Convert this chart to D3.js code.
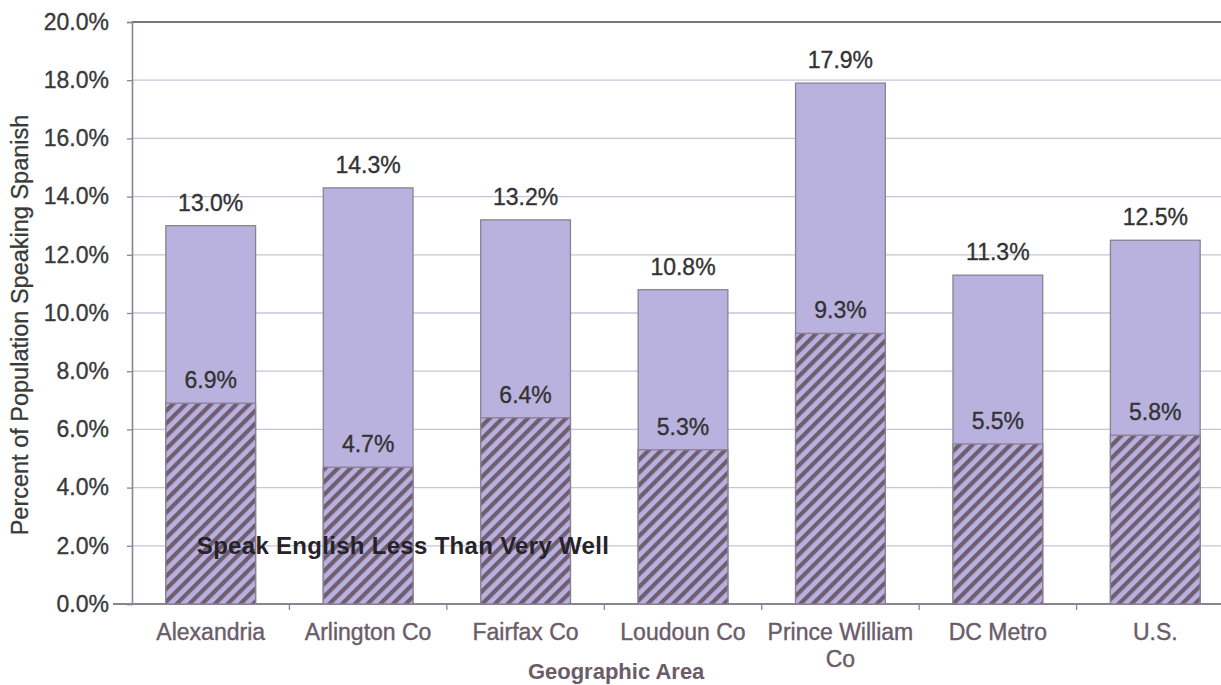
<!DOCTYPE html>
<html>
<head>
<meta charset="utf-8">
<script src="https://cdn.jsdelivr.net/npm/d3@7"></script>
<style>
body { margin: 0; background: #fff; }
text { font-family: "Liberation Sans", Arial, sans-serif; }
</style>
</head>
<body>
<script>
// data
var areas = ["Alexandria", "Arlington Co", "Fairfax Co", "Loudoun Co", "Prince William Co", "DC Metro", "U.S."];
var totalSpanish = [13.0, 14.3, 13.2, 10.8, 17.9, 11.3, 12.5];
var lessThanVeryWell = [6.9, 4.7, 6.4, 5.3, 9.3, 5.5, 5.8];
var yTicks = [0, 2, 4, 6, 8, 10, 12, 14, 16, 18, 20];

var margin = {top: 22, right: 0, bottom: 81, left: 132};
var width = 1102;   // runs past the window edge like the scan
var height = 604 - margin.top;

var svg = d3.select("body").append("svg")
    .attr("width", 1221)
    .attr("height", 685);

// stripes for the lower segment
var pat = svg.append("defs").append("pattern")
    .attr("id", "hatch")
    .attr("patternUnits", "userSpaceOnUse")
    .attr("width", 9)
    .attr("height", 9)
    .attr("patternTransform", "rotate(45)");
pat.append("rect").attr("width", 9).attr("height", 9).attr("fill", "#b8b1df");
pat.append("rect").attr("width", 4.2).attr("height", 9).attr("fill", "#705e70");

var g = svg.append("g")
    .attr("transform", "translate(" + margin.left + "," + margin.top + ")");

var x = d3.scaleBand().domain(areas).range([0, width]).paddingInner(0.43).paddingOuter(0.215);
var y = d3.scaleLinear().domain([0, 20]).range([height, 0]);

// gridlines
g.selectAll(".grid")
    .data(yTicks.slice(1))
    .enter().append("line")
    .attr("class", "grid")
    .attr("x1", 0)
    .attr("x2", width)
    .attr("y1", function(d) { return y(d); })
    .attr("y2", function(d) { return y(d); })
    .attr("stroke", function(d) { return d == 20 ? "#7d7280" : "#c9c4da"; })
    .attr("stroke-width", function(d) { return d == 20 ? 1.8 : 1.3; });

// y axis
var yAxis = d3.axisLeft(y)
    .tickValues(yTicks)
    .tickSize(5)
    .tickPadding(18)
    .tickFormat(function(d) { return d.toFixed(1) + "%"; });

var ya = g.append("g").call(yAxis);
ya.select(".domain").attr("stroke", "#8c8392").attr("stroke-width", 1.6);
ya.selectAll(".tick line").attr("stroke", "#8c8392").attr("stroke-width", 1.3);
ya.selectAll(".tick text")
    .attr("fill", "#3a3a3a")
    .attr("stroke", "#3a3a3a")
    .attr("stroke-width", 0.35)
    .style("font-size", "23px");

// x axis line and ticks between categories
g.append("line")
    .attr("x1", -19).attr("x2", width)
    .attr("y1", height).attr("y2", height)
    .attr("stroke", "#8c8392").attr("stroke-width", 1.8);

var step = x.step();
g.selectAll(".xtick")
    .data(areas.slice(1))
    .enter().append("line")
    .attr("class", "xtick")
    .attr("x1", function(d) { return x(d) - (step - x.bandwidth()) / 2; })
    .attr("x2", function(d) { return x(d) - (step - x.bandwidth()) / 2; })
    .attr("y1", height)
    .attr("y2", height + 6)
    .attr("stroke", "#8c8392")
    .attr("stroke-width", 1.3);

// full bars
g.selectAll(".total")
    .data(areas)
    .enter().append("rect")
    .attr("class", "total")
    .attr("x", function(d) { return x(d); })
    .attr("width", x.bandwidth())
    .attr("y", function(d, i) { return y(totalSpanish[i]); })
    .attr("height", function(d, i) { return height - y(totalSpanish[i]); })
    .attr("fill", "#b9b2df")
    .attr("stroke", "#8a8090")
    .attr("stroke-width", 1.3);

// hatched segment
g.selectAll(".less")
    .data(areas)
    .enter().append("rect")
    .attr("class", "less")
    .attr("x", function(d) { return x(d); })
    .attr("width", x.bandwidth())
    .attr("y", function(d, i) { return y(lessThanVeryWell[i]); })
    .attr("height", function(d, i) { return height - y(lessThanVeryWell[i]); })
    .attr("fill", "url(#hatch)")
    .attr("stroke", "#8a8090")
    .attr("stroke-width", 1.3);

// value labels
function valueLabels(cls, vals) {
    g.selectAll("." + cls)
        .data(areas)
        .enter().append("text")
        .attr("class", cls)
        .attr("x", function(d) { return x(d) + x.bandwidth() / 2; })
        .attr("y", function(d, i) { return y(vals[i]) - 15; })
        .attr("text-anchor", "middle")
        .attr("fill", "#333")
        .attr("stroke", "#333")
        .attr("stroke-width", 0.35)
        .style("font-size", "23px")
        .text(function(d, i) { return vals[i].toFixed(1) + "%"; });
}
valueLabels("lblTotal", totalSpanish);
valueLabels("lblLess", lessThanVeryWell);

// series label inside the plot
g.append("text")
    .attr("x", x(areas[0]) + 31)
    .attr("y", y(2) + 8)
    .attr("fill", "#262228")
    .style("font-size", "24px")
    .style("font-weight", "bold")
    .style("letter-spacing", "0.3px")
    .text("Speak English Less Than Very Well");

// category labels
var xl = g.selectAll(".xlab")
    .data(areas)
    .enter().append("text")
    .attr("class", "xlab")
    .attr("x", function(d) { return x(d) + x.bandwidth() / 2; })
    .attr("y", height + 36)
    .attr("text-anchor", "middle")
    .attr("fill", "#6b5c6a")
    .attr("stroke", "#6b5c6a")
    .attr("stroke-width", 0.4)
    .style("font-size", "23px");

xl.each(function(d) {
    var t = d3.select(this);
    var lines = d == "Prince William Co" ? ["Prince William", "Co"] : [d];
    lines.forEach(function(l, i) {
        t.append("tspan")
            .attr("x", x(d) + x.bandwidth() / 2)
            .attr("dy", i == 0 ? 0 : 27)
            .text(l);
    });
});

// axis titles
g.append("text")
    .attr("x", x(areas[3]) - 22)
    .attr("y", height + 75)
    .attr("text-anchor", "middle")
    .attr("fill", "#6b5c6a")
    .style("font-size", "22px")
    .style("font-weight", "bold")
    .text("Geographic Area");

svg.append("text")
    .attr("transform", "rotate(-90)")
    .attr("x", -325)
    .attr("y", 28)
    .attr("text-anchor", "middle")
    .attr("fill", "#3a3a3a")
    .attr("stroke", "#3a3a3a")
    .attr("stroke-width", 0.3)
    .style("font-size", "23.5px")
    .text("Percent of Population Speaking Spanish");
</script>
</body>
</html>
